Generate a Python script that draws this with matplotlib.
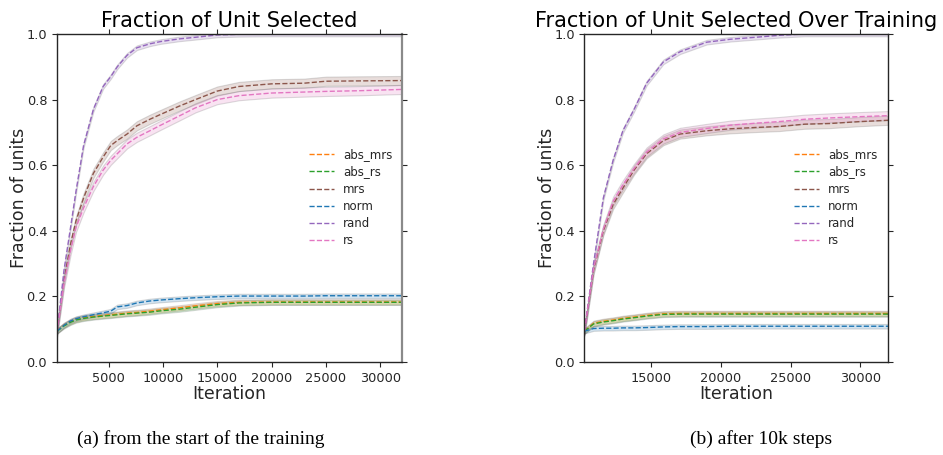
import numpy as np
import matplotlib
matplotlib.use('Agg')
import matplotlib.pyplot as plt


names = ['abs_mrs', 'abs_rs', 'mrs', 'norm', 'rand', 'rs']
colors = ['#ff7f0e', '#2ca02c', '#8c564b', '#1f77b4', '#9467bd', '#e377c2']
spread = [0.008, 0.008, 0.014, 0.007, 0.007, 0.014]

# (a) from the start of training
x_a = [250, 900, 1500, 2000, 2700, 3600, 4500, 5200, 5800, 6700, 7600, 8800,
       9800, 11500, 13000, 15000, 17000, 20000, 23000, 25000, 28000, 32000]
abs_mrs_a = [0.094, 0.112, 0.123, 0.130, 0.135, 0.139, 0.142, 0.144, 0.146, 0.149, 0.151,
             0.155, 0.159, 0.165, 0.171, 0.178, 0.182, 0.183, 0.183, 0.183, 0.183, 0.183]
abs_rs_a = [0.094, 0.110, 0.121, 0.128, 0.133, 0.137, 0.140, 0.142, 0.144, 0.147, 0.149,
            0.152, 0.156, 0.161, 0.167, 0.175, 0.180, 0.182, 0.182, 0.182, 0.182, 0.182]
mrs_a = [0.09, 0.25, 0.36, 0.43, 0.50, 0.575, 0.625, 0.66, 0.675, 0.695, 0.72,
         0.74, 0.755, 0.78, 0.80, 0.826, 0.84, 0.848, 0.85, 0.856, 0.857, 0.858]
norm_a = [0.094, 0.112, 0.125, 0.132, 0.138, 0.144, 0.150, 0.155, 0.168, 0.172, 0.180,
          0.186, 0.189, 0.193, 0.196, 0.199, 0.201, 0.201, 0.201, 0.202, 0.202, 0.202]
rand_a = [0.09, 0.28, 0.41, 0.52, 0.66, 0.77, 0.84, 0.87, 0.90, 0.935, 0.958,
          0.97, 0.977, 0.985, 0.99, 0.997, 0.999, 1.0, 1.0, 1.0, 1.0, 1.0]
rs_a = [0.09, 0.24, 0.34, 0.41, 0.47, 0.535, 0.585, 0.615, 0.635, 0.665, 0.685,
        0.705, 0.722, 0.75, 0.775, 0.80, 0.812, 0.82, 0.823, 0.825, 0.827, 0.831]

# (b) after 10k steps
x_b = [10250, 10900, 11600, 12300, 13000, 13800, 14700, 15900, 17100, 19000,
       20700, 22500, 24200, 26000, 27800, 30000, 32000]
abs_mrs_b = [0.094, 0.118, 0.124, 0.128, 0.133, 0.137, 0.142, 0.147, 0.148, 0.148,
             0.148, 0.148, 0.148, 0.148, 0.148, 0.148, 0.148]
abs_rs_b = [0.094, 0.116, 0.122, 0.126, 0.131, 0.135, 0.140, 0.145, 0.146, 0.146,
            0.146, 0.146, 0.146, 0.146, 0.146, 0.146, 0.146]
mrs_b = [0.095, 0.28, 0.40, 0.48, 0.53, 0.585, 0.635, 0.675, 0.695, 0.705,
         0.711, 0.715, 0.718, 0.725, 0.727, 0.733, 0.737]
norm_b = [0.094, 0.102, 0.103, 0.103, 0.104, 0.104, 0.105, 0.107, 0.108, 0.108,
          0.109, 0.109, 0.109, 0.109, 0.109, 0.109, 0.109]
rand_b = [0.095, 0.30, 0.50, 0.615, 0.705, 0.77, 0.85, 0.915, 0.946, 0.975,
          0.984, 0.99, 0.996, 1.0, 1.0, 1.0, 1.0]
rs_b = [0.095, 0.285, 0.405, 0.49, 0.54, 0.59, 0.64, 0.68, 0.70, 0.712,
        0.722, 0.728, 0.733, 0.74, 0.744, 0.748, 0.751]

series_a = [abs_mrs_a, abs_rs_a, mrs_a, norm_a, rand_a, rs_a]
series_b = [abs_mrs_b, abs_rs_b, mrs_b, norm_b, rand_b, rs_b]

text_col = '#262626'

fig = plt.figure(figsize=(9.43, 4.55), dpi=100)
ax1 = fig.add_axes([0.0604, 0.2044, 0.3659, 0.7209])
ax2 = fig.add_axes([0.6198, 0.2044, 0.3222, 0.7209])


def draw(ax, x, series, title, xlim, xticks, leg_x):
    x = np.array(x)
    for name, c, s, y in zip(names, colors, spread, series):
        y = np.array(y)
        ax.fill_between(x, y - s, y + s, facecolor=c, alpha=0.2,
                        edgecolor='#555555', linewidth=0.8)
        ax.plot(x, y, color=c, ls='--', lw=1, label=name)
    ax.set_xlim(*xlim)
    ax.set_ylim(0, 1)
    ax.set_xticks(xticks)
    ax.set_yticks([0.0, 0.2, 0.4, 0.6, 0.8, 1.0])
    ax.tick_params(axis='both', which='both', direction='out', length=3.5,
                   top=True, right=True, labelsize=9.3, colors=text_col)
    for sp in ax.spines.values():
        sp.set_color(text_col)
        sp.set_linewidth(1)
    ax.set_title(title, fontsize=15, color='black', pad=5)
    ax.set_xlabel('Iteration', fontsize=12.5, color=text_col, labelpad=0)
    ax.set_ylabel('Fraction of units', fontsize=12.5, color=text_col, labelpad=-1)
    leg = ax.legend(loc='upper left', bbox_to_anchor=(leg_x, 0.652), frameon=False,
                    fontsize=8.5, handlelength=2.1, handletextpad=0.8,
                    labelspacing=0.36, borderaxespad=0, borderpad=0)
    for t in leg.get_texts():
        t.set_color(text_col)


draw(ax1, x_a, series_a, 'Fraction of Unit Selected', (250, 32000),
     [5000, 10000, 15000, 20000, 25000, 30000], 0.73)
ax1.spines['right'].set_color('#8a8a8a')
ax1.spines['right'].set_linewidth(1.6)

draw(ax2, x_b, series_b, 'Fraction of Unit Selected Over Training', (10250, 32000),
     [15000, 20000, 25000, 30000], 0.69)

fig.text(0.213, 0.035, '(a) from the start of the training', ha='center', va='center',
         fontsize=14, family='Liberation Serif')
fig.text(0.807, 0.035, '(b) after 10k steps', ha='center', va='center',
         fontsize=14, family='Liberation Serif')

fig.savefig('out.png', dpi=100)
